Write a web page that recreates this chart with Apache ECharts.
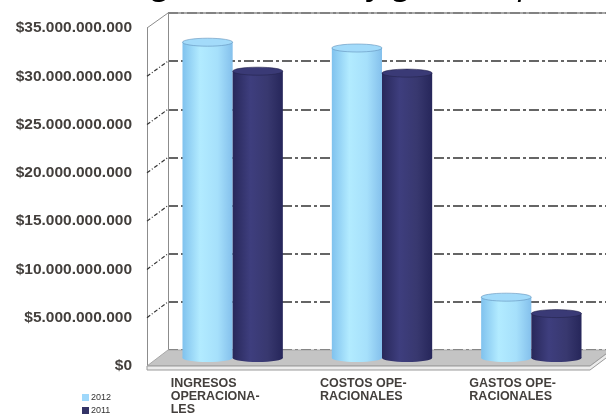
<!DOCTYPE html>
<html><head><meta charset="utf-8">
<script src="https://cdn.jsdelivr.net/npm/echarts@6/dist/echarts.min.js"></script>
<style>html,body{margin:0;padding:0;background:#fff}#c{width:606px;height:418px}</style>
</head><body><div id="c"></div>
<script>
const titleText = 'Ingresos, costos y gastos operacionales';
const categories = ['INGRESOS\nOPERACIONA-\nLES', 'COSTOS OPE-\nRACIONALES', 'GASTOS OPE-\nRACIONALES'];
const seriesNames = ['2012', '2011'];
const values2012 = [32.7e9, 32.1e9, 6.3e9];
const values2011 = [29.7e9, 29.5e9, 4.6e9];
const yMin = 0, yMax = 35e9, yStep = 5e9;

function fmt(v) {
  return '$' + String(Math.round(v)).replace(/\B(?=(\d{3})+(?!\d))/g, '.');
}
const chart = echarts.init(document.getElementById('c'), null, {renderer: 'canvas'});

const lightGrad = () => new echarts.graphic.LinearGradient(0, 0, 1, 0, [
  {offset: 0, color: '#80c2ee'}, {offset: 0.35, color: '#b2ebff'}, {offset: 0.7, color: '#a6e0fb'}, {offset: 1, color: '#84c0ec'}]);
const darkGrad = () => new echarts.graphic.LinearGradient(0, 0, 1, 0, [
  {offset: 0, color: '#28285a'}, {offset: 0.35, color: '#3e3e7e'}, {offset: 0.7, color: '#38386f'}, {offset: 1, color: '#26265a'}]);

function cylinder(side, grad, topFill, topStroke) {
  return function (params, api) {
    const cat = api.value(0), v = api.value(1);
    const top = api.coord([cat, v]);
    const base = api.coord([cat, 0]);
    const band = api.size([1, 0])[0];
    const w = band * 0.336;
    const cx = top[0] + side * w / 2;
    const ry = 4;
    return {
      type: 'group',
      children: [
        {type: 'circle', x: cx, y: base[1], scaleY: ry / (w / 2), shape: {cx: 0, cy: 0, r: w / 2}, style: {fill: grad()}},
        {type: 'rect', shape: {x: cx - w / 2, y: top[1], width: w, height: base[1] - top[1]}, style: {fill: grad()}},
        {type: 'circle', x: cx, y: top[1], scaleY: ry / (w / 2), shape: {cx: 0, cy: 0, r: w / 2}, style: {fill: topFill, stroke: topStroke, lineWidth: 1}}
      ]
    };
  };
}

const labelStyle = {color: '#433f3c', fontWeight: 'bold', fontFamily: 'Liberation Sans, Arial', fontSize: 15.5};

chart.setOption({
  animation: false,
  backgroundColor: '#fff',
  grid: [
    {left: 168, right: 0, top: 13, bottom: 68, show: false},   // back wall
    {left: 147, right: 0, top: 28, bottom: 52, show: false},   // front axis labels
    {left: 158, right: 0, top: 20, bottom: 60, show: false},   // bars (mid depth)
    {left: 96, right: 62, top: 28, bottom: 52, show: false}    // category labels
  ],
  xAxis: [
    {gridIndex: 0, type: 'category', data: categories, show: false},
    {gridIndex: 1, type: 'category', data: categories, show: false},
    {gridIndex: 2, type: 'category', data: categories, show: false},
    {gridIndex: 3, type: 'category', data: categories, axisLine: {show: false}, axisTick: {show: false},
      axisLabel: {interval: 0, align: 'left', verticalAlign: 'top', margin: 11, color: '#433f3c', fontWeight: 'bold',
        fontFamily: 'Liberation Sans, Arial', fontSize: 12.5, lineHeight: 13}}
  ],
  yAxis: [
    {gridIndex: 0, type: 'value', min: yMin, max: yMax, interval: yStep, axisLabel: {show: false},
      axisLine: {show: true, lineStyle: {color: '#8c8c8c', width: 1}}, axisTick: {show: false},
      splitLine: {show: true, lineStyle: {color: '#333', width: 1.5, type: [10, 3, 3, 3]}}},
    {gridIndex: 1, type: 'value', min: yMin, max: yMax, interval: yStep,
      axisLabel: Object.assign({formatter: fmt, margin: 15}, labelStyle),
      axisLine: {show: true, lineStyle: {color: '#8c8c8c', width: 1}}, axisTick: {show: false}, splitLine: {show: false}},
    {gridIndex: 2, type: 'value', min: yMin, max: yMax, interval: yStep, show: false, splitLine: {show: false}},
    {gridIndex: 3, type: 'value', min: yMin, max: yMax, interval: yStep, show: false, splitLine: {show: false}}
  ],
  legend: {
    orient: 'vertical', left: 82, top: 393, padding: 0, itemWidth: 7, itemHeight: 7, itemGap: 4, icon: 'rect',
    data: seriesNames, textStyle: {fontSize: 9, color: '#333', fontFamily: 'Liberation Sans, Arial', padding: [0, 0, 0, -3]}
  },
  series: [
    {name: seriesNames[0], type: 'custom', xAxisIndex: 2, yAxisIndex: 2, z: 10, itemStyle: {color: '#9fd8fb'},
      renderItem: cylinder(-1, lightGrad, '#a3dbfa', '#5f8fb8'),
      data: categories.map((c, i) => [i, values2012[i]])},
    {name: seriesNames[1], type: 'custom', xAxisIndex: 2, yAxisIndex: 2, z: 10, itemStyle: {color: '#333366'},
      renderItem: cylinder(1, darkGrad, '#3a3a76', '#22224a'),
      data: categories.map((c, i) => [i, values2011[i]])}
  ]
});

// 3D frame decorations derived from the axes
const xF = 147, xB = 168;
const yF = v => chart.convertToPixel({yAxisIndex: 1}, v);
const yB = v => chart.convertToPixel({yAxisIndex: 0}, v);
const els = [];
for (let v = yMin; v <= yMax; v += yStep) {
  if (v === yMin) continue;
  els.push({type: 'line', z: 2, shape: {x1: xF, y1: yF(v), x2: xB, y2: yB(v)},
    style: {stroke: v === yMax ? '#8c8c8c' : '#333', lineWidth: v === yMax ? 1 : 1.2, lineDash: v === yMax ? null : [4, 2, 1, 2]}});
}
// back wall top edge
els.push({type: 'line', z: 2, shape: {x1: xB, y1: yB(yMax), x2: 606, y2: yB(yMax)}, style: {stroke: '#8c8c8c', lineWidth: 1.5}});
// floor
const f0 = yF(0), b0 = yB(0);
els.push({type: 'polygon', z: 3, shape: {points: [[xF, f0], [xB, b0], [610, b0], [610, f0 - 16 * (610 - 590) / 21], [590, f0]]},
  style: {fill: '#c4c4c4', stroke: '#a8a8a8', lineWidth: 1}});
els.push({type: 'polygon', z: 3, shape: {points: [[xF, f0], [590, f0], [610, f0 - 15], [610, f0 - 11], [590, f0 + 4], [xF, f0 + 4]]},
  style: {fill: '#ececec', stroke: '#9a9a9a', lineWidth: 1}});
// title (mostly outside the top edge)
els.push({type: 'text', z: 5, x: 124, y: 1, style: {text: titleText, font: 'italic 34px "Open Sans", sans-serif', fill: '#000', textVerticalAlign: 'bottom'}});
chart.setOption({graphic: {elements: els}});
</script>
</body></html>
